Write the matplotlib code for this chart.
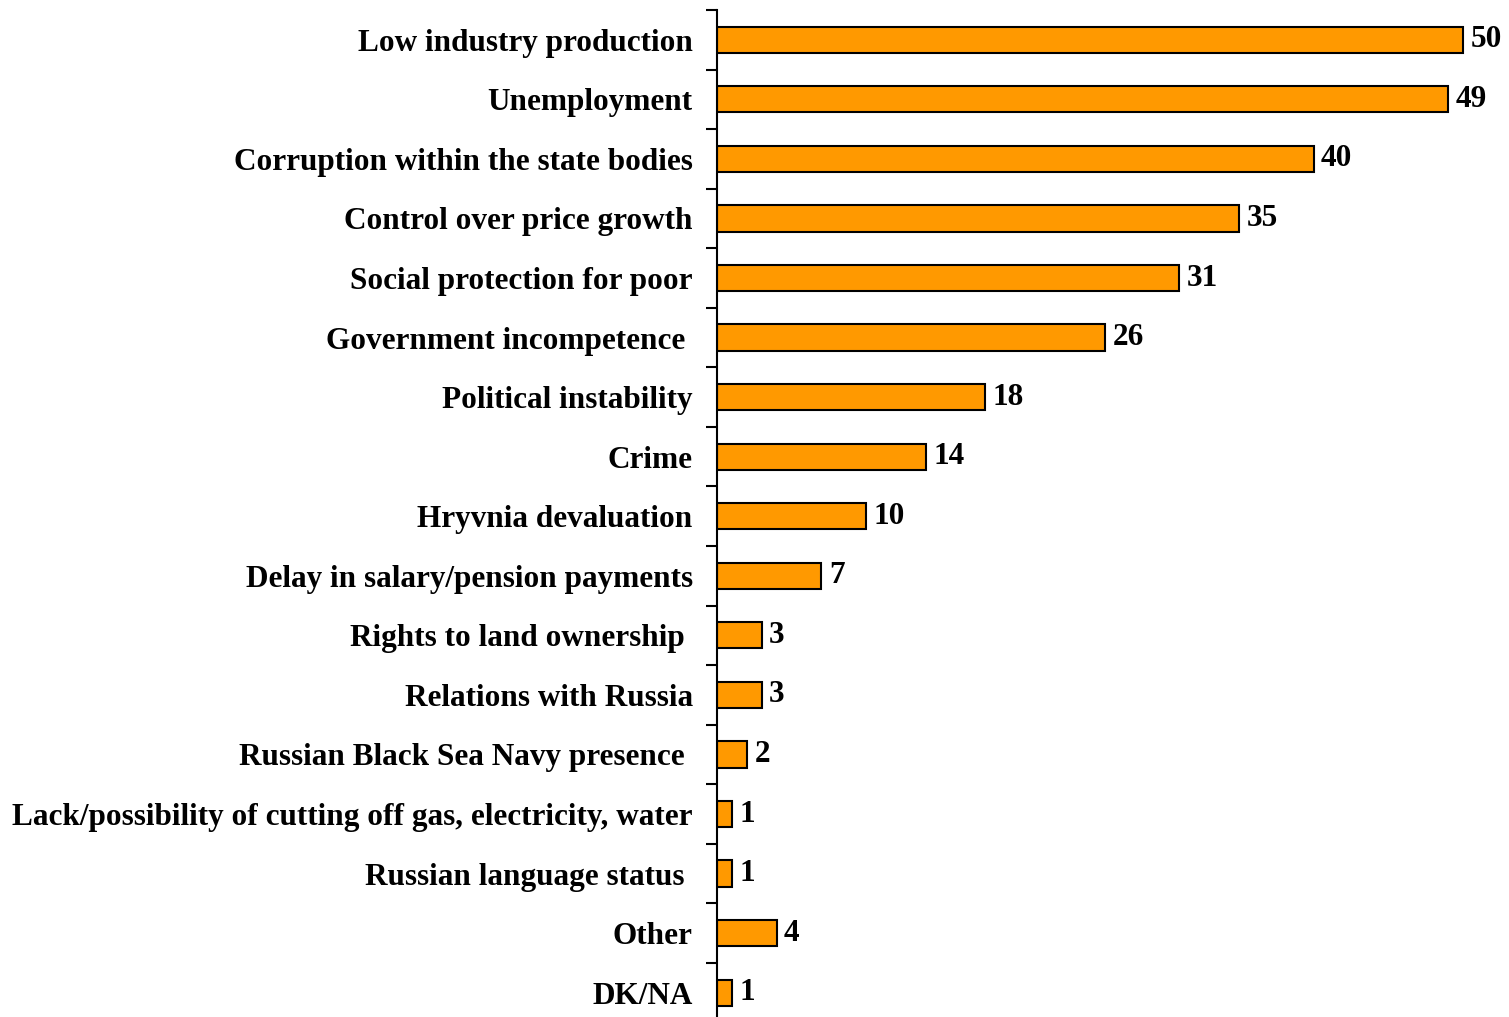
import matplotlib
matplotlib.use("Agg")
import matplotlib.pyplot as plt
import numpy as np

categories = [
    "Low industry production",
    "Unemployment",
    "Corruption within the state bodies",
    "Control over price growth",
    "Social protection for poor",
    "Government incompetence ",
    "Political instability",
    "Crime",
    "Hryvnia devaluation",
    "Delay in salary/pension payments",
    "Rights to land ownership ",
    "Relations with Russia",
    "Russian Black Sea Navy presence ",
    "Lack/possibility of cutting off gas, electricity, water",
    "Russian language status ",
    "Other",
    "DK/NA",
]
values = [50, 49, 40, 35, 31, 26, 18, 14, 10, 7, 3, 3, 2, 1, 1, 4, 1]

plt.rcParams['font.family'] = ['Liberation Serif', 'DejaVu Serif']

fig = plt.figure(figsize=(15.09, 10.17), dpi=100)
ax = fig.add_axes([717/1509, -5.5/1017, 1 - 717/1509, 1017/1017 - 10/1017 + 5.5/1017])

y = np.arange(len(categories))
ax.barh(y, values, height=0.44, color="#FF9900", edgecolor="black", linewidth=1.5)
for yi, v in zip(y, values):
    ax.text(v + 0.5, yi, str(v), va="center", ha="left", fontsize=22.5, fontweight="bold")

ax.set_xlim(0, 53.1)
ax.set_ylim(len(categories) - 0.5, -0.5)
ax.set_yticks(y)
ax.set_yticklabels(categories, fontsize=22.5, fontweight="bold")
ax.tick_params(axis="y", which="major", length=0, pad=17.5)
ax.set_yticks(np.arange(-0.5, len(categories) - 0.5, 1), minor=True)
ax.tick_params(axis="y", which="minor", length=8, width=1.5, direction="out")
ax.set_xticks([])
for s in ["top", "right", "bottom"]:
    ax.spines[s].set_visible(False)
ax.spines["left"].set_linewidth(1.5)

fig.savefig("out.png", dpi=100)
